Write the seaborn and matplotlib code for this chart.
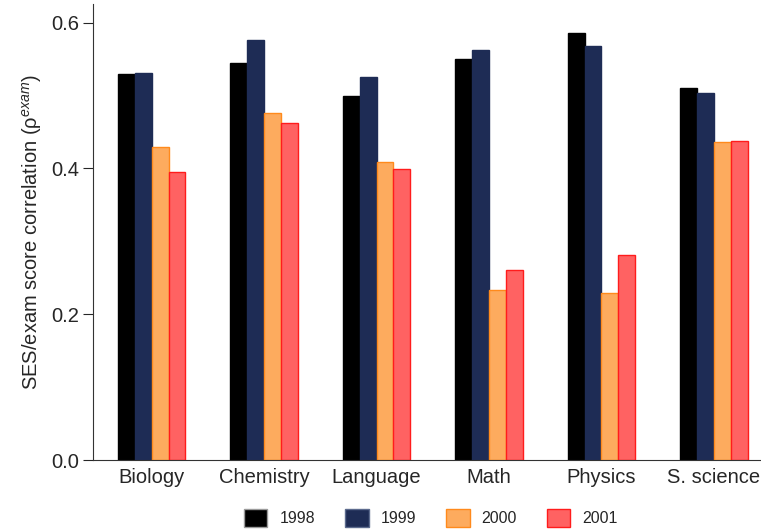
import matplotlib
matplotlib.use("Agg")
import matplotlib.pyplot as plt
from matplotlib.patches import Patch
import seaborn as sns
import pandas as pd

# Correlation between SES and exam score, by subject and year
subjects = ["Biology", "Chemistry", "Language", "Math", "Physics", "S. science"]
years = ["1998", "1999", "2000", "2001"]
rho_1998 = [0.530, 0.545, 0.499, 0.550, 0.586, 0.510]
rho_1999 = [0.531, 0.576, 0.526, 0.563, 0.568, 0.504]
rho_2000 = [0.429, 0.476, 0.409, 0.233, 0.229, 0.437]
rho_2001 = [0.395, 0.462, 0.399, 0.261, 0.281, 0.438]

face_colors = ["#000000", "#1e2c55", "#fdab5e", "#ff6262"]
edge_colors = ["#000000", "#1e2c55", "#ff8a1c", "#ff1c1c"]
legend_edges = ["#9a9a9a", "#5c6b8e", "#ff8a1c", "#ff1c1c"]

df = pd.DataFrame({
    "subject": subjects * 4,
    "year": [y for y in years for _ in subjects],
    "rho": rho_1998 + rho_1999 + rho_2000 + rho_2001,
})

sns.set_style("ticks")
plt.rcParams["font.family"] = ["Liberation Sans", "DejaVu Sans"]
plt.rcParams["mathtext.fontset"] = "custom"
plt.rcParams["mathtext.it"] = "Liberation Sans:italic"
plt.rcParams["mathtext.rm"] = "Liberation Sans"

fig = plt.figure(figsize=(7.61, 5.31), dpi=100)
ax = fig.add_axes([93.3 / 761, 71 / 531, 1 - 93.3 / 761, (460 - 4.5) / 531])

sns.barplot(data=df, x="subject", y="rho", hue="year", order=subjects,
            hue_order=years, palette=face_colors, width=0.6, ax=ax,
            linewidth=1.0, saturation=1, legend=False)

for container, ec in zip(ax.containers, edge_colors):
    for bar in container:
        bar.set_edgecolor(ec)

ax.set_xlim(-0.52, 5.42)
ax.set_ylim(0, 0.625)
ax.set_yticks([0.0, 0.2, 0.4, 0.6])
ax.set_yticklabels(["0.0", "0.2", "0.4", "0.6"])
ax.set_xlabel("")
ax.set_ylabel("SES/exam score correlation (ρ$^{exam}$)", fontsize=14.5, labelpad=5)
ax.tick_params(axis="y", labelsize=14.5, length=7, width=0.8, pad=3)
ax.tick_params(axis="x", labelsize=14.5, length=0, pad=6)
for side in ["top", "right"]:
    ax.spines[side].set_visible(False)
for side in ["left", "bottom"]:
    ax.spines[side].set_linewidth(0.8)
    ax.spines[side].set_color("#333333")

handles = [Patch(facecolor=fc, edgecolor=ec, linewidth=1.0, label=y)
           for fc, ec, y in zip(face_colors, legend_edges, years)]
fig.legend(handles=handles, loc="center", bbox_to_anchor=(431 / 761, 1 - 518 / 531),
           ncol=4, frameon=False, fontsize=11.5, handlelength=1.45,
           handleheight=1.35, handletextpad=0.75, columnspacing=1.9)

fig.savefig("out.png", dpi=100)
